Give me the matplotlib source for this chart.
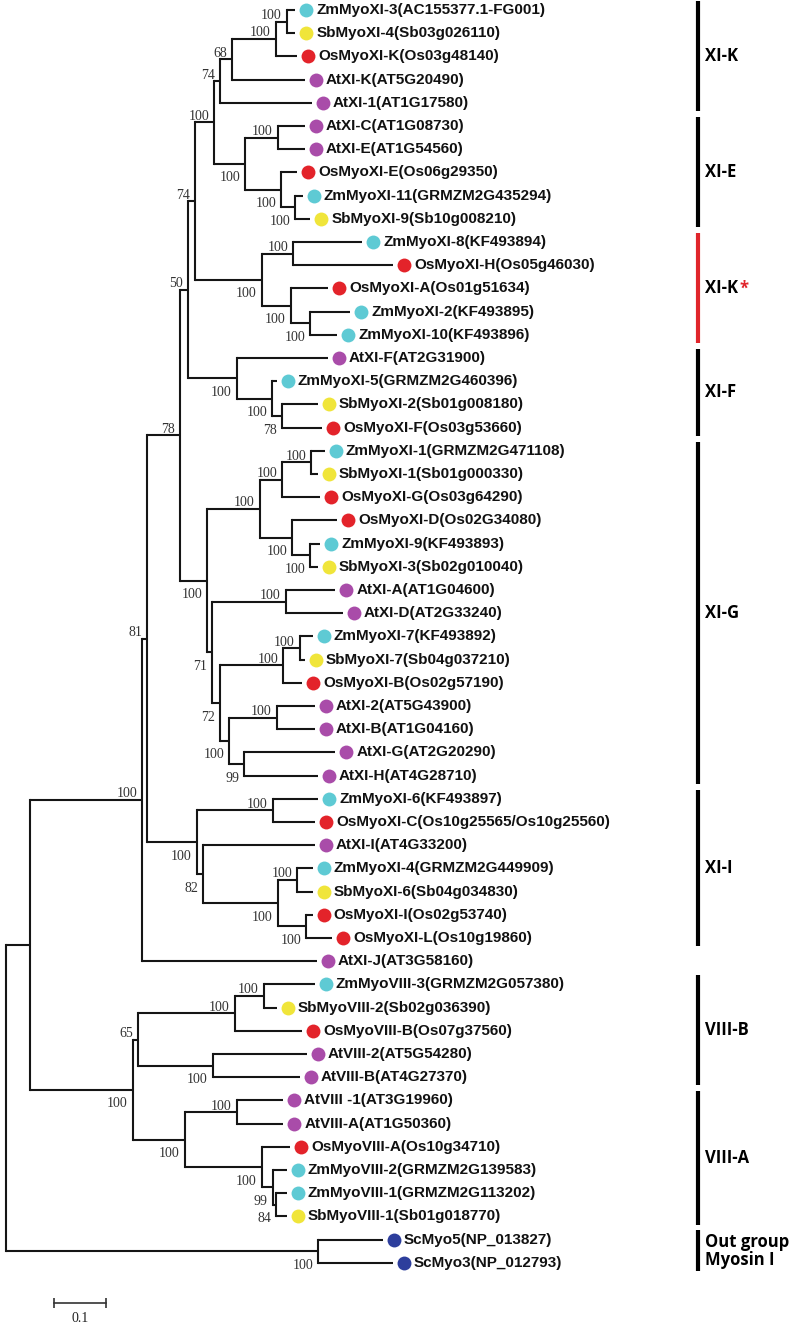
import matplotlib
matplotlib.use("Agg")
import matplotlib.pyplot as plt

# leaves, top to bottom: name, species, tip depth (substitutions/site)
leaf_names = [
    "ZmMyoXI-3(AC155377.1-FG001)", "SbMyoXI-4(Sb03g026110)", "OsMyoXI-K(Os03g48140)",
    "AtXI-K(AT5G20490)", "AtXI-1(AT1G17580)", "AtXI-C(AT1G08730)", "AtXI-E(AT1G54560)",
    "OsMyoXI-E(Os06g29350)", "ZmMyoXI-11(GRMZM2G435294)", "SbMyoXI-9(Sb10g008210)",
    "ZmMyoXI-8(KF493894)", "OsMyoXI-H(Os05g46030)", "OsMyoXI-A(Os01g51634)",
    "ZmMyoXI-2(KF493895)", "ZmMyoXI-10(KF493896)", "AtXI-F(AT2G31900)",
    "ZmMyoXI-5(GRMZM2G460396)", "SbMyoXI-2(Sb01g008180)", "OsMyoXI-F(Os03g53660)",
    "ZmMyoXI-1(GRMZM2G471108)", "SbMyoXI-1(Sb01g000330)", "OsMyoXI-G(Os03g64290)",
    "OsMyoXI-D(Os02G34080)", "ZmMyoXI-9(KF493893)", "SbMyoXI-3(Sb02g010040)",
    "AtXI-A(AT1G04600)", "AtXI-D(AT2G33240)", "ZmMyoXI-7(KF493892)",
    "SbMyoXI-7(Sb04g037210)", "OsMyoXI-B(Os02g57190)", "AtXI-2(AT5G43900)",
    "AtXI-B(AT1G04160)", "AtXI-G(AT2G20290)", "AtXI-H(AT4G28710)",
    "ZmMyoXI-6(KF493897)", "OsMyoXI-C(Os10g25565/Os10g25560)", "AtXI-I(AT4G33200)",
    "ZmMyoXI-4(GRMZM2G449909)", "SbMyoXI-6(Sb04g034830)", "OsMyoXI-I(Os02g53740)",
    "OsMyoXI-L(Os10g19860)", "AtXI-J(AT3G58160)", "ZmMyoVIII-3(GRMZM2G057380)",
    "SbMyoVIII-2(Sb02g036390)", "OsMyoVIII-B(Os07g37560)", "AtVIII-2(AT5G54280)",
    "AtVIII-B(AT4G27370)", "AtVIII -1(AT3G19960)", "AtVIII-A(AT1G50360)",
    "OsMyoVIII-A(Os10g34710)", "ZmMyoVIII-2(GRMZM2G139583)", "ZmMyoVIII-1(GRMZM2G113202)",
    "SbMyoVIII-1(Sb01g018770)", "ScMyo5(NP_013827)", "ScMyo3(NP_012793)",
]
leaf_species = [
    "Zm", "Sb", "Os", "At", "At", "At", "At", "Os", "Zm", "Sb",
    "Zm", "Os", "Os", "Zm", "Zm", "At", "Zm", "Sb", "Os",
    "Zm", "Sb", "Os", "Os", "Zm", "Sb", "At", "At", "Zm", "Sb", "Os",
    "At", "At", "At", "At", "Zm", "Os", "At", "Zm", "Sb", "Os", "Os", "At",
    "Zm", "Sb", "Os", "At", "At", "At", "At", "Os", "Zm", "Zm", "Sb", "Sc", "Sc",
]
leaf_depth = [
    0.556, 0.556, 0.560, 0.575, 0.588, 0.575, 0.575, 0.560, 0.571, 0.585,
    0.685, 0.744, 0.619, 0.662, 0.637, 0.619, 0.521, 0.600, 0.608,
    0.613, 0.600, 0.604, 0.637, 0.604, 0.600, 0.633, 0.648, 0.590, 0.575, 0.569,
    0.594, 0.594, 0.633, 0.600, 0.600, 0.594, 0.594, 0.590, 0.590, 0.590, 0.627, 0.598,
    0.594, 0.521, 0.569, 0.579, 0.565, 0.533, 0.533, 0.546, 0.540, 0.540, 0.540,
    0.725, 0.744,
]

# internal nodes: children (int = leaf index, str = node), depth, bootstrap, label side
node_names = [
    "zs1", "k1", "k2", "k", "e3", "e5", "e4", "e", "ke",
    "ks1", "ks3", "ks2", "ks", "n74", "f3", "f2", "f", "n50",
    "g4", "g3", "g6", "g5", "g2", "gad", "g8", "g7", "g10", "g11", "g9", "g12", "g13", "g", "n78",
    "i2", "i5", "i6", "i4", "i3", "i", "n81", "xi",
    "b2", "b1", "b3", "b", "a1", "a4", "a3", "a2", "a", "viii", "ingroup", "out", "root",
]
node_children = [
    [0, 1], ["zs1", 2], ["k1", 3], ["k2", 4], [5, 6], [8, 9], [7, "e5"], ["e3", "e4"], ["k", "e"],
    [10, 11], [13, 14], [12, "ks3"], ["ks1", "ks2"], ["ke", "ks"], [17, 18], [16, "f3"], [15, "f2"], ["n74", "f"],
    [19, 20], ["g4", 21], [23, 24], [22, "g6"], ["g3", "g5"], [25, 26], [27, 28], ["g8", 29],
    [30, 31], [32, 33], ["g10", "g11"], ["g7", "g9"], ["gad", "g12"], ["g2", "g13"], ["n50", "g"],
    [34, 35], [37, 38], [39, 40], ["i5", "i6"], [36, "i4"], ["i2", "i3"], ["n78", "i"], ["n81", 41],
    [42, 43], ["b2", 44], [45, 46], ["b1", "b3"], [47, 48], [51, 52], [50, "a4"], [49, "a3"],
    ["a1", "a2"], ["b", "a"], ["xi", "viii"], [53, 54], ["ingroup", "out"],
]
node_depth = [
    0.540, 0.519, 0.435, 0.412, 0.523, 0.556, 0.529, 0.460, 0.400,
    0.552, 0.585, 0.548, 0.492, 0.363, 0.531, 0.512, 0.444, 0.350,
    0.587, 0.531, 0.585, 0.550, 0.488, 0.538, 0.565, 0.533, 0.521, 0.458, 0.429, 0.412, 0.396, 0.387, 0.335,
    0.513, 0.560, 0.577, 0.523, 0.379, 0.367, 0.271, 0.262,
    0.496, 0.440, 0.398, 0.254, 0.444, 0.519, 0.513, 0.492, 0.344, 0.244, 0.046, 0.600, 0.000,
]
node_support = [
    "100", "100", "68", "74", "100", "100", "100", "100", "100",
    "100", "100", "100", "100", "74", "78", "100", "100", "50",
    "100", "100", "100", "100", "100", "100", "100", "100", "100", "99", "100", "72", "71", "100", "78",
    "100", "100", "100", "100", "82", "100", "81", "100",
    "100", "100", "100", "65", "100", "84", "99", "100", "100", "100", "", "100", "",
]
node_side = [
    "a", "a", "a", "a", "a", "b", "b", "b", "a",
    "a", "b", "b", "b", "a", "b", "b", "b", "a",
    "a", "a", "b", "b", "a", "a", "a", "a", "a", "b", "b", "b", "b", "b", "a",
    "a", "a", "b", "b", "b", "b", "a", "a",
    "a", "a", "b", "a", "a", "b", "b", "b", "b", "b", "a", "b", "a",
]

species_colors = {"Zm": "#5ECAD4", "Sb": "#F0E53A", "Os": "#E3232A",
                  "At": "#A94CA9", "Sc": "#2D3E9C"}

# subfamily brackets: label, first leaf, last leaf, colour
group_labels = ["XI-K", "XI-E", "XI-K", "XI-F", "XI-G", "XI-I", "VIII-B", "VIII-A",
                "Out group\nMyosin I"]
group_first = [0, 5, 10, 15, 19, 34, 42, 47, 53]
group_last = [4, 9, 14, 18, 33, 40, 46, 52, 54]
group_colors = ["k", "k", "#E0252B", "k", "k", "k", "k", "k", "k"]

W, H = 800, 1327
PX = 520.0      # pixels per unit of branch length (0.1 = 52 px)
ROW = 23.2      # pixels between leaves
fig = plt.figure(figsize=(W / 100, H / 100), dpi=100)
ax = fig.add_axes([0, 0, 1, 1])
ax.set_xlim(-6 / PX, (W - 6) / PX)
ax.set_ylim((H - 10) / ROW, -10 / ROW)
ax.axis("off")

dx = 1 / PX
dy = 1 / ROW

depth = {}
ypos = {}
for i, d in enumerate(leaf_depth):
    depth[i] = d
    ypos[i] = float(i)
kids = dict(zip(node_names, node_children))
for n, d in zip(node_names, node_depth):
    depth[n] = d


def get_y(n):
    if n not in ypos:
        c = kids[n]
        ypos[n] = (get_y(c[0]) + get_y(c[-1])) / 2
    return ypos[n]


get_y("root")

lc = "#151515"
for n, sup, side in zip(node_names, node_support, node_side):
    c = kids[n]
    x = depth[n]
    ax.plot([x, x], [ypos[c[0]], ypos[c[-1]]], color=lc, lw=1.5, solid_capstyle="projecting")
    for ch in c:
        ax.plot([x, depth[ch]], [ypos[ch], ypos[ch]], color=lc, lw=1.5, solid_capstyle="butt")
    if sup:
        off = -6 if side == "a" else 14
        ax.text(x - 5 * dx, ypos[n] + off * dy, sup, ha="right", va="center",
                family="Liberation Serif", fontsize=10, color="#333333")

for i, (name, sp) in enumerate(zip(leaf_names, leaf_species)):
    ax.plot(leaf_depth[i] + 11 * dx, i, "o", ms=10, mec="none", color=species_colors[sp])
    ax.text(leaf_depth[i] + 21 * dx, i, name, ha="left", va="center",
            family="Liberation Sans", fontweight="bold", fontsize=11, color="#111111")

# clade brackets on the right
bx = 692 / PX
for lab, a, b, col in zip(group_labels, group_first, group_last, group_colors):
    y0, y1 = a - 0.4, b + 0.35
    ax.plot([bx, bx], [y0, y1], color=col, lw=3, solid_capstyle="butt")
    t = ax.text(bx + 7 * dx, (y0 + y1) / 2, lab, ha="left", va="center",
                family="Open Sans", fontweight="bold", fontsize=12, color="black",
                linespacing=1.0)
    if col != "k":
        ax.annotate("*", xy=(1, 1), xycoords=t, xytext=(1, -1), textcoords="offset points",
                    ha="left", va="top", color=col, fontsize=12, fontweight="bold",
                    family="Open Sans")

# scale bar
sx = 0.092
sy = (1303 - 10) / ROW
ax.plot([sx, sx + 0.1], [sy, sy], color="#333333", lw=1.2)
ax.plot([sx, sx + 0.1], [sy, sy], "|", color="#333333", ms=7, mew=1.2)
ax.text(sx + 0.05, sy + 15 * dy, "0.1", ha="center", va="center",
        family="Liberation Serif", fontsize=10, color="#222222")

fig.savefig("out.png", dpi=100, facecolor="white")
